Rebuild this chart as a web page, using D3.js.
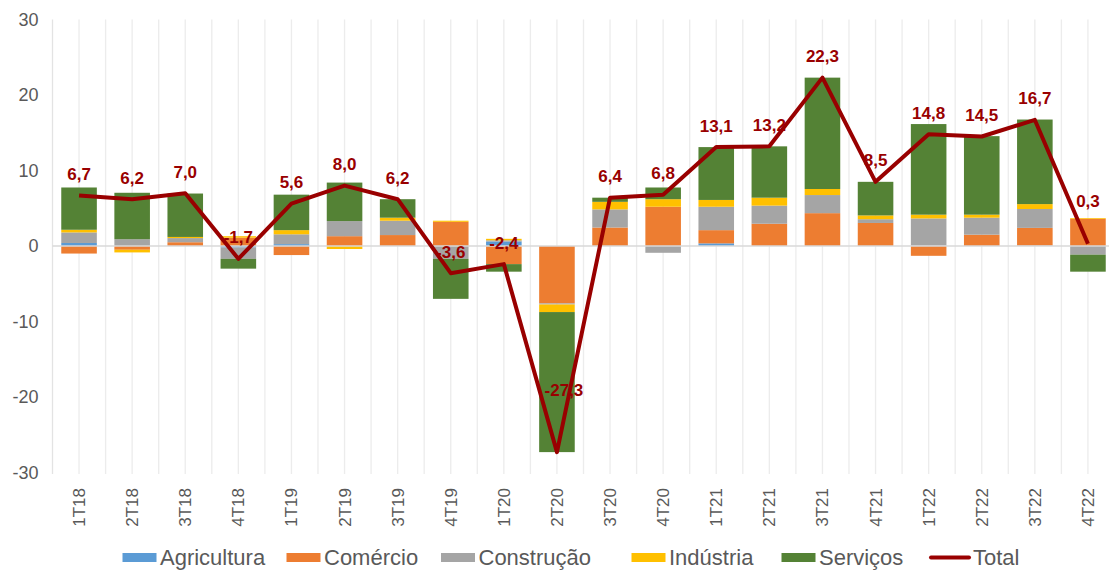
<!DOCTYPE html>
<html>
<head>
<meta charset="utf-8">
<script src="https://cdn.jsdelivr.net/npm/d3@7"></script>
<style>
  html, body { margin: 0; padding: 0; background: #ffffff; }
  svg { display: block; font-family: "Liberation Sans", Arial, sans-serif; }
</style>
</head>
<body>
<svg id="chart" width="1109" height="572"></svg>
<script>
// Quarterly contributions by sector and total
const categories = ["1T18","2T18","3T18","4T18","1T19","2T19","3T19","4T19","1T20","2T20",
                    "3T20","4T20","1T21","2T21","3T21","4T21","1T22","2T22","3T22","4T22"];
const agricultura = [0.4, 0, 0, -0.2, 0.25, 0, 0, 0, 0.6, 0, 0, 0, 0.35, 0, 0, 0, 0.05, 0, 0.05, 0];
const comercio    = [-1.0, -0.5, 0.5, 1.1, -1.2, 1.3, 1.45, 3.2, -2.4, -7.6, 2.45, 5.2, 1.75, 2.95, 4.35, 3.05, -1.3, 1.5, 2.35, 3.6];
const construcao  = [1.4, 0.9, 0.55, -1.5, 1.3, 2.0, 1.9, -1.7, 0.15, -0.15, 2.4, -0.9, 3.1, 2.4, 2.4, 0.5, 3.6, 2.25, 2.5, -1.15];
const industria   = [0.35, -0.35, 0.15, 0.2, 0.55, -0.4, 0.4, 0.15, 0.2, -1.0, 1.0, 1.0, 0.9, 1.05, 0.8, 0.5, 0.5, 0.4, 0.65, 0.1];
const servicos    = [5.6, 6.15, 5.75, -1.3, 4.7, 5.1, 2.45, -5.3, -1.0, -18.55, 0.55, 1.55, 7.0, 6.8, 14.75, 4.45, 12.0, 10.4, 11.2, -2.25];
const total       = [6.7, 6.2, 7.0, -1.7, 5.6, 8.0, 6.2, -3.6, -2.4, -27.3, 6.4, 6.8, 13.1, 13.2, 22.3, 8.5, 14.8, 14.5, 16.7, 0.3];
const yTicks = [-30, -20, -10, 0, 10, 20, 30];

const seriesNames = ["Agricultura", "Comércio", "Construção", "Indústria", "Serviços"];
const seriesValues = [agricultura, comercio, construcao, industria, servicos];
const seriesColors = ["#5b9bd5", "#ed7d31", "#a5a5a5", "#ffc000", "#548235"];
const totalColor = "#990000";
const textColor = "#595959";

const svg = d3.select("#chart");

const plotLeft = 52.5, step = 53.1, plotTop = 19.5, plotBottom = 472.5;
const plotRight = plotLeft + step * categories.length;

const x = d3.scalePoint().domain(categories).range([plotLeft, plotRight]).padding(0.5);
const y = d3.scaleLinear().domain([-30, 30]).range([plotBottom, plotTop]);
const barWidth = x.step() * 0.67;

// vertical gridlines at slot boundaries and centres
const gridG = svg.append("g");
const gridXs = [];
for (let i = 1; i <= categories.length * 2; i++) gridXs.push(plotLeft + i * x.step() / 2);
gridG.selectAll("line").data(gridXs).join("line")
  .attr("x1", d => d).attr("x2", d => d)
  .attr("y1", plotTop).attr("y2", plotBottom + 1.5)
  .attr("stroke", "#ececec").attr("stroke-width", 1.3);

// left axis line
svg.append("line")
  .attr("x1", plotLeft).attr("x2", plotLeft)
  .attr("y1", plotTop).attr("y2", plotBottom + 1.5)
  .attr("stroke", "#e3e3e3").attr("stroke-width", 1.3);

// y axis tick labels (plain hyphen for negatives)
const yAxis = d3.axisLeft(y).tickValues(yTicks).tickSize(0).tickPadding(14)
  .tickFormat(d => String(d));
const yG = svg.append("g").attr("transform", `translate(${plotLeft},0)`).call(yAxis);
yG.select(".domain").remove();
yG.selectAll("text").attr("font-size", 18).attr("fill", textColor)
  .attr("font-family", "'Liberation Sans', Arial, sans-serif");

// stacked bars (diverging around zero)
const rows = categories.map((c, i) => {
  const r = { cat: c };
  seriesNames.forEach((s, k) => r[s] = seriesValues[k][i]);
  return r;
});
const stacked = d3.stack().keys(seriesNames).offset(d3.stackOffsetDiverging)(rows);

const barsG = svg.append("g");
stacked.forEach((layer, k) => {
  barsG.append("g").attr("fill", seriesColors[k])
    .selectAll("rect").data(layer).join("rect")
    .attr("x", d => x(d.data.cat) - barWidth / 2)
    .attr("width", barWidth)
    .attr("y", d => y(Math.max(d[0], d[1])))
    .attr("height", d => Math.abs(y(d[0]) - y(d[1])));
});

// zero line
svg.append("line")
  .attr("x1", plotLeft).attr("x2", plotRight)
  .attr("y1", y(0)).attr("y2", y(0))
  .attr("stroke", "#d9d9d9").attr("stroke-width", 1.6);

// category labels (rotated)
svg.append("g").selectAll("text").data(categories).join("text")
  .attr("transform", d => `translate(${x(d)},488) rotate(-90)`)
  .attr("text-anchor", "end")
  .attr("dy", "0.35em")
  .attr("font-size", 17)
  .attr("fill", textColor)
  .text(d => d);

// total value labels
const labelShift = { "2T20": { dx: 7, dy: -62 }, "4T22": { dx: 0, dy: -43 } };
const fmt = v => v.toFixed(1).replace(".", ",");
svg.append("g").selectAll("text").data(categories).join("text")
  .attr("x", (d) => x(d) + (labelShift[d] ? labelShift[d].dx : 0))
  .attr("y", (d, i) => y(total[i]) + (labelShift[d] ? labelShift[d].dy : -21.5))
  .attr("dy", "0.35em")
  .attr("text-anchor", "middle")
  .attr("font-size", 17)
  .attr("font-weight", "bold")
  .attr("fill", totalColor)
  .text((d, i) => fmt(total[i]));

// total line
const line = d3.line().x((d, i) => x(categories[i])).y(d => y(d));
svg.append("path").datum(total)
  .attr("d", line)
  .attr("fill", "none")
  .attr("stroke", totalColor)
  .attr("stroke-width", 4)
  .attr("stroke-linejoin", "round");

// legend
const legendItems = seriesNames.map((n, k) => ({ name: n, color: seriesColors[k], type: "rect" }))
  .concat([{ name: "Total", color: totalColor, type: "line" }]);
const legendKeyX = [122.5, 286.5, 441, 631.5, 781.5, 931];
const legendG = svg.append("g");
const ly = 557.5;
legendItems.forEach((item, k) => {
  const lx = legendKeyX[k];
  const g = legendG.append("g");
  if (item.type === "rect") {
    g.append("rect").attr("x", lx).attr("y", ly - 4.5).attr("width", 34).attr("height", 9)
      .attr("fill", item.color);
  } else {
    g.append("line").attr("x1", lx).attr("x2", lx + 38).attr("y1", ly).attr("y2", ly)
      .attr("stroke", item.color).attr("stroke-width", 4).attr("stroke-linecap", "round");
  }
  g.append("text")
    .attr("x", lx + (item.type === "rect" ? 37.5 : 42))
    .attr("y", ly).attr("dy", "0.35em")
    .attr("font-size", 22).attr("fill", textColor)
    .text(item.name);
});
</script>
</body>
</html>
